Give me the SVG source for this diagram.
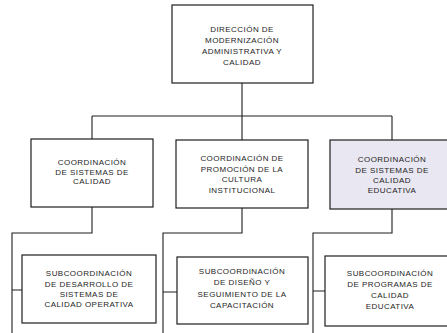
<svg xmlns="http://www.w3.org/2000/svg" width="447" height="333" viewBox="0 0 447 333">
<style>
.box{fill:#ffffff;stroke:#1e1e1e;stroke-width:1.2}
.hl{fill:#e9e7f1}
.ln{fill:none;stroke:#1e1e1e;stroke-width:1.1}
text{font-family:"Liberation Sans",Arial,sans-serif;font-size:8px;fill:#1e1e1e;text-anchor:middle;letter-spacing:0.45px}
</style>
<rect width="447" height="333" fill="#ffffff"/>
<g id="connectors">
<path class="ln" d="M242,83V140M92,116H392M92,116V139M392,116V140"/>
<path class="ln" d="M92,207V233H12V333M12,290H22"/>
<path class="ln" d="M242,208V233H163V333M163,292H177"/>
<path class="ln" d="M392,209V233H313V333M313,291H325"/>
</g>
<g id="direccion">
<rect class="box" x="172" y="5" width="141" height="78"/>
<text x="242" y="32">DIRECCIÓN DE</text>
<text x="242" y="43">MODERNIZACIÓN</text>
<text x="242" y="54">ADMINISTRATIVA Y</text>
<text x="242" y="65">CALIDAD</text>
</g>
<g id="coord1">
<rect class="box" x="31" y="139" width="122" height="68"/>
<text x="92" y="165">COORDINACIÓN</text>
<text x="92" y="174.5">DE SISTEMAS DE</text>
<text x="92" y="184">CALIDAD</text>
</g>
<g id="coord2">
<rect class="box" x="176" y="140" width="132" height="68"/>
<text x="242" y="161">COORDINACIÓN DE</text>
<text x="242" y="171.5">PROMOCIÓN DE LA</text>
<text x="242" y="182">CULTURA</text>
<text x="242" y="193">INSTITUCIONAL</text>
</g>
<g id="coord3">
<rect class="box hl" x="330" y="140" width="120" height="69"/>
<text x="392" y="162">COORDINACIÓN</text>
<text x="392" y="172.5">DE SISTEMAS DE</text>
<text x="392" y="183">CALIDAD</text>
<text x="392" y="193">EDUCATIVA</text>
</g>
<g id="sub1">
<rect class="box" x="22" y="255" width="134" height="68"/>
<text x="89" y="276">SUBCOORDINACIÓN</text>
<text x="89" y="286.5">DE DESARROLLO DE</text>
<text x="89" y="297">SISTEMAS DE</text>
<text x="89" y="307">CALIDAD OPERATIVA</text>
</g>
<g id="sub2">
<rect class="box" x="177" y="257" width="131" height="67"/>
<text x="242" y="274">SUBCOORDINACIÓN</text>
<text x="242" y="285">DE DISEÑO Y</text>
<text x="242" y="297">SEGUIMIENTO DE LA</text>
<text x="242" y="308">CAPACITACIÓN</text>
</g>
<g id="sub3">
<rect class="box" x="325" y="256" width="125" height="70"/>
<text x="390" y="276">SUBCOORDINACIÓN</text>
<text x="390" y="287">DE PROGRAMAS DE</text>
<text x="390" y="298">CALIDAD</text>
<text x="390" y="309">EDUCATIVA</text>
</g>
</svg>
